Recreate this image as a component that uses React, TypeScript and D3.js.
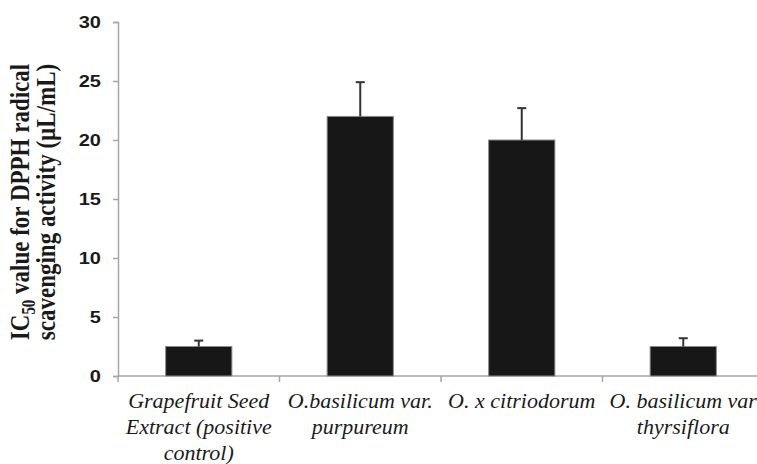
import React, { useEffect, useRef } from 'react'
import { select, scaleBand, scaleLinear, axisLeft } from 'd3'

const categories = [
  ['Grapefruit Seed', 'Extract (positive', 'control)'],
  ['O.basilicum var.', 'purpureum'],
  ['O. x citriodorum'],
  ['O. basilicum var', 'thyrsiflora'],
]
const values = [2.5, 22.0, 20.0, 2.5]
const errors = [0.5, 2.9, 2.7, 0.7]
const yTicks = [0, 5, 10, 15, 20, 25, 30]

const W = 757, H = 464

function BarChart() {
  const ref = useRef<SVGSVGElement>(null)

  useEffect(() => {
    const svg = select(ref.current)
    svg.selectAll('*').remove()

    const x = scaleBand<number>()
      .domain(categories.map((_, i) => i))
      .range([118, 764])
      .padding(0)
    const y = scaleLinear().domain([0, 30]).range([376, 22])

    const axisColor = '#a6a6a6'
    const stretch = 1.25

    // y axis
    const ya = svg.append('g')
      .attr('transform', 'translate(118,0)')
      .call(axisLeft(y).tickValues(yTicks).tickSize(5).tickPadding(8.6))
    ya.select('.domain').attr('stroke', axisColor).attr('stroke-width', 1.5)
    ya.selectAll('.tick line').attr('stroke', axisColor).attr('stroke-width', 1.5)
    ya.selectAll('.tick text')
      .attr('fill', '#1a1a1a')
      .attr('transform', `scale(${stretch},1)`)
      .style('font-family', 'Liberation Sans, Arial, sans-serif')
      .style('font-size', '16px')
      .style('font-weight', 'bold')

    // x axis line + category ticks
    svg.append('line')
      .attr('x1', 118).attr('x2', W)
      .attr('y1', y(0)).attr('y2', y(0))
      .attr('stroke', axisColor).attr('stroke-width', 1.5)
    const bounds = categories.map((_, i) => x(i)!).concat([x(categories.length - 1)! + x.bandwidth()])
    svg.selectAll('line.xt')
      .data(bounds.filter(b => b < W))
      .join('line')
      .attr('class', 'xt')
      .attr('x1', d => d).attr('x2', d => d)
      .attr('y1', y(0)).attr('y2', y(0) + 6)
      .attr('stroke', axisColor).attr('stroke-width', 1.5)

    // bars
    const bw = x.bandwidth() * 0.41
    const cx = (i: number) => x(i)! + x.bandwidth() / 2
    svg.selectAll('rect.bar')
      .data(values)
      .join('rect')
      .attr('class', 'bar')
      .attr('x', (_, i) => cx(i) - bw / 2)
      .attr('y', d => y(d))
      .attr('width', bw)
      .attr('height', d => y(0) - y(d))
      .attr('fill', '#171717')
      .attr('stroke', '#8a8a8a')
      .attr('stroke-width', 1)

    // error bars
    const eg = svg.append('g').attr('stroke', '#333').attr('stroke-width', 2)
    values.forEach((v, i) => {
      eg.append('line')
        .attr('x1', cx(i)).attr('x2', cx(i))
        .attr('y1', y(v)).attr('y2', y(v + errors[i]))
      eg.append('line')
        .attr('x1', cx(i) - 4.5).attr('x2', cx(i) + 4.5)
        .attr('y1', y(v + errors[i])).attr('y2', y(v + errors[i]))
    })

    // category labels
    categories.forEach((lines, i) => {
      const t = svg.append('text')
        .attr('text-anchor', 'middle')
        .attr('fill', '#1a1a1a')
        .style('font-family', '"Liberation Serif", "Times New Roman", serif')
        .style('font-style', 'italic')
        .style('font-size', '22px')
      lines.forEach((s, j) => {
        t.append('tspan').attr('x', cx(i)).attr('y', 408 + j * 26).text(s)
      })
    })

    // y axis title
    const title = svg.append('text')
      .attr('transform', 'translate(0,202) rotate(-90) scale(1,1.2)')
      .attr('text-anchor', 'middle')
      .attr('fill', '#1a1a1a')
      .style('font-family', '"Liberation Serif", "Times New Roman", serif')
      .style('font-weight', 'bold')
      .style('font-size', '23px')
    const l1 = title.append('tspan').attr('x', 0).attr('y', 23.8)
    l1.append('tspan').text('IC')
    l1.append('tspan').attr('dy', 5).style('font-size', '15px').text('50')
    l1.append('tspan').attr('dy', -5).text(' value for DPPH radical')
    title.append('tspan').attr('x', 0).attr('y', 45.8).text('scavenging activity (µL/mL)')
  }, [])

  return (
    <svg ref={ref} width={W} height={H}
      style={{ position: 'absolute', left: 0, top: 0, background: '#fff' }} />
  )
}

export default function App() {
  return <BarChart />
}
